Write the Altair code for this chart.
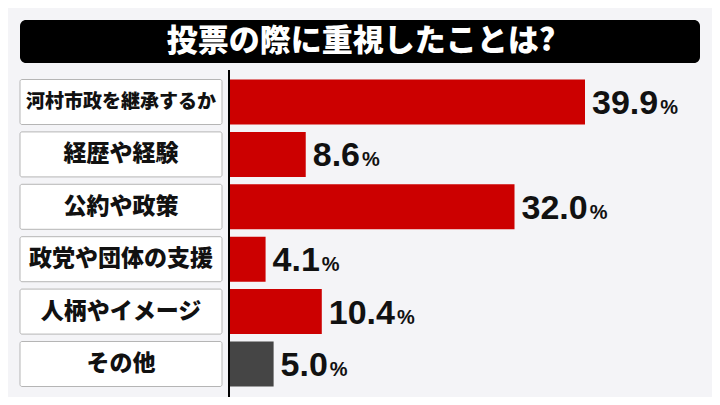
import altair as alt
import pandas as pd

categories = ["河村市政を継承するか", "経歴や経験", "公約や政策", "政党や団体の支援", "人柄やイメージ", "その他"]
values = [39.9, 8.6, 32.0, 4.1, 10.4, 5.0]
bar_colors = ["#cc0000", "#cc0000", "#cc0000", "#cc0000", "#cc0000", "#454545"]
title_text = ["投票の際に重視したことは?"]

df = pd.DataFrame({"cat": categories, "v": values, "col": bar_colors})
tdf = pd.DataFrame({"t": title_text})

JP = "Noto Sans CJK JP"
NUM = "Liberation Sans"

yscale = alt.Scale(domain=categories, range=[71.5, 378.5], paddingInner=0.141, paddingOuter=0)
xscale = alt.Scale(domain=[0, 39.9], range=[221, 577], clamp=False, nice=False, zero=False)
Y = alt.Y("cat:N", scale=yscale, axis=None, sort=categories)

title_box = alt.Chart(tdf).mark_rect(color="#000000", cornerRadius=6).encode(
    x=alt.value(12), x2=alt.value(692), y=alt.value(12), y2=alt.value(55)
)
title_txt = alt.Chart(tdf).mark_text(
    font=JP, fontSize=31, fontWeight=900, color="white", align="center", baseline="middle"
).encode(x=alt.value(353), y=alt.value(34), text="t:N")

label_box = alt.Chart(df).mark_rect(fill="white", stroke="#b5b5b5", strokeWidth=1, cornerRadius=2).encode(
    x=alt.value(12), x2=alt.value(214), y=Y
)
label_txt = alt.Chart(df).transform_calculate(
    fs="min(23, 190 / length(datum.cat))"
).mark_text(
    font=JP, fontWeight=900, color="#111111", align="center", baseline="middle"
).encode(x=alt.value(113), y=Y, text="cat:N", size=alt.Size("fs:Q", scale=None, legend=None))

axis_line = alt.Chart(tdf).mark_rule(color="#000000", strokeWidth=2).encode(
    x=alt.value(221), y=alt.value(62), y2=alt.value(390)
)

bars = alt.Chart(df).mark_bar().encode(
    x=alt.X("v:Q", scale=xscale, axis=None),
    x2=alt.datum(0),
    y=Y,
    color=alt.Color("col:N", scale=None),
)

nums = alt.Chart(df).transform_calculate(label="format(datum.v, '.1f')").mark_text(
    font=NUM, fontSize=34, fontWeight="bold", color="#111111", align="left", baseline="alphabetic", dx=7, dy=12
).encode(x=alt.X("v:Q", scale=xscale, axis=None), y=Y, text="label:N")

pct = alt.Chart(df).transform_calculate(
    label="format(datum.v, '.1f')"
).transform_calculate(
    px="datum.v + ((length(datum.label) - 1) * 18.9 + 9.45 + 2) / 8.922", p="'%'"
).mark_text(
    font=NUM, fontSize=20, fontWeight="bold", color="#111111", align="left", baseline="alphabetic", dx=7, dy=12
).encode(x=alt.X("px:Q", scale=xscale, axis=None), y=Y, text="p:N")

chart = alt.layer(title_box, title_txt, label_box, label_txt, bars, axis_line, nums, pct).properties(
    width=704, height=389, padding=0, autosize=alt.AutoSizeParams(type="none"), background="#f4f4f7"
).configure_view(stroke=None)

chart.save("out.html", embed_options={"renderer": "svg", "actions": False})
